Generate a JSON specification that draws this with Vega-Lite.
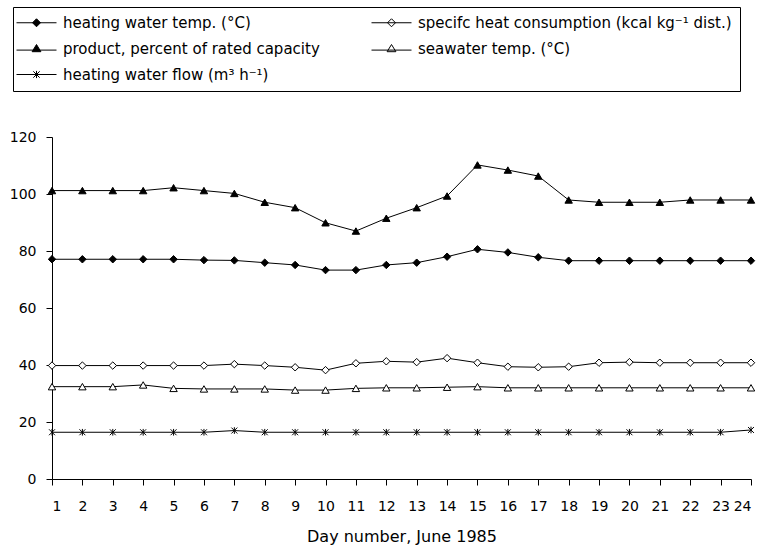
{
  "$schema": "https://vega.github.io/schema/vega-lite/v6.json",
  "width": 699,
  "height": 342,
  "autosize": {"type": "none"},
  "padding": {"left": 52, "top": 137, "right": 11, "bottom": 69},
  "background": "white",
  "config": {
    "view": {"stroke": null},
    "font": "DejaVu Sans",
    "axis": {
      "grid": false,
      "domainColor": "black",
      "tickColor": "black",
      "labelColor": "black",
      "titleColor": "black",
      "labelFont": "DejaVu Sans",
      "titleFont": "DejaVu Sans",
      "labelFontSize": 14,
      "titleFontSize": 16,
      "titleFontWeight": "normal",
      "tickSize": 6
    }
  },
  "data": {
    "values": [
      {"day":1,"series":"heating water temp. (°C)","value":77.1},
      {"day":2,"series":"heating water temp. (°C)","value":77.1},
      {"day":3,"series":"heating water temp. (°C)","value":77.1},
      {"day":4,"series":"heating water temp. (°C)","value":77.1},
      {"day":5,"series":"heating water temp. (°C)","value":77.1},
      {"day":6,"series":"heating water temp. (°C)","value":76.8},
      {"day":7,"series":"heating water temp. (°C)","value":76.7},
      {"day":8,"series":"heating water temp. (°C)","value":75.9},
      {"day":9,"series":"heating water temp. (°C)","value":75.1},
      {"day":10,"series":"heating water temp. (°C)","value":73.3},
      {"day":11,"series":"heating water temp. (°C)","value":73.3},
      {"day":12,"series":"heating water temp. (°C)","value":75.1},
      {"day":13,"series":"heating water temp. (°C)","value":75.9},
      {"day":14,"series":"heating water temp. (°C)","value":78.0},
      {"day":15,"series":"heating water temp. (°C)","value":80.6},
      {"day":16,"series":"heating water temp. (°C)","value":79.5},
      {"day":17,"series":"heating water temp. (°C)","value":77.8},
      {"day":18,"series":"heating water temp. (°C)","value":76.6},
      {"day":19,"series":"heating water temp. (°C)","value":76.6},
      {"day":20,"series":"heating water temp. (°C)","value":76.6},
      {"day":21,"series":"heating water temp. (°C)","value":76.6},
      {"day":22,"series":"heating water temp. (°C)","value":76.6},
      {"day":23,"series":"heating water temp. (°C)","value":76.6},
      {"day":24,"series":"heating water temp. (°C)","value":76.6},
      {"day":1,"series":"specifc heat consumption (kcal kg⁻¹ dist.)","value":39.8},
      {"day":2,"series":"specifc heat consumption (kcal kg⁻¹ dist.)","value":39.8},
      {"day":3,"series":"specifc heat consumption (kcal kg⁻¹ dist.)","value":39.8},
      {"day":4,"series":"specifc heat consumption (kcal kg⁻¹ dist.)","value":39.8},
      {"day":5,"series":"specifc heat consumption (kcal kg⁻¹ dist.)","value":39.8},
      {"day":6,"series":"specifc heat consumption (kcal kg⁻¹ dist.)","value":39.8},
      {"day":7,"series":"specifc heat consumption (kcal kg⁻¹ dist.)","value":40.3},
      {"day":8,"series":"specifc heat consumption (kcal kg⁻¹ dist.)","value":39.8},
      {"day":9,"series":"specifc heat consumption (kcal kg⁻¹ dist.)","value":39.2},
      {"day":10,"series":"specifc heat consumption (kcal kg⁻¹ dist.)","value":38.2},
      {"day":11,"series":"specifc heat consumption (kcal kg⁻¹ dist.)","value":40.6},
      {"day":12,"series":"specifc heat consumption (kcal kg⁻¹ dist.)","value":41.3},
      {"day":13,"series":"specifc heat consumption (kcal kg⁻¹ dist.)","value":41.0},
      {"day":14,"series":"specifc heat consumption (kcal kg⁻¹ dist.)","value":42.4},
      {"day":15,"series":"specifc heat consumption (kcal kg⁻¹ dist.)","value":40.8},
      {"day":16,"series":"specifc heat consumption (kcal kg⁻¹ dist.)","value":39.4},
      {"day":17,"series":"specifc heat consumption (kcal kg⁻¹ dist.)","value":39.2},
      {"day":18,"series":"specifc heat consumption (kcal kg⁻¹ dist.)","value":39.4},
      {"day":19,"series":"specifc heat consumption (kcal kg⁻¹ dist.)","value":40.8},
      {"day":20,"series":"specifc heat consumption (kcal kg⁻¹ dist.)","value":41.0},
      {"day":21,"series":"specifc heat consumption (kcal kg⁻¹ dist.)","value":40.8},
      {"day":22,"series":"specifc heat consumption (kcal kg⁻¹ dist.)","value":40.8},
      {"day":23,"series":"specifc heat consumption (kcal kg⁻¹ dist.)","value":40.8},
      {"day":24,"series":"specifc heat consumption (kcal kg⁻¹ dist.)","value":40.8},
      {"day":1,"series":"product, percent of rated capacity","value":101.2},
      {"day":2,"series":"product, percent of rated capacity","value":101.2},
      {"day":3,"series":"product, percent of rated capacity","value":101.2},
      {"day":4,"series":"product, percent of rated capacity","value":101.2},
      {"day":5,"series":"product, percent of rated capacity","value":102.2},
      {"day":6,"series":"product, percent of rated capacity","value":101.2},
      {"day":7,"series":"product, percent of rated capacity","value":100.2},
      {"day":8,"series":"product, percent of rated capacity","value":97.1},
      {"day":9,"series":"product, percent of rated capacity","value":95.2},
      {"day":10,"series":"product, percent of rated capacity","value":89.9},
      {"day":11,"series":"product, percent of rated capacity","value":87.0},
      {"day":12,"series":"product, percent of rated capacity","value":91.5},
      {"day":13,"series":"product, percent of rated capacity","value":95.2},
      {"day":14,"series":"product, percent of rated capacity","value":99.3},
      {"day":15,"series":"product, percent of rated capacity","value":110.2},
      {"day":16,"series":"product, percent of rated capacity","value":108.4},
      {"day":17,"series":"product, percent of rated capacity","value":106.3},
      {"day":18,"series":"product, percent of rated capacity","value":97.9},
      {"day":19,"series":"product, percent of rated capacity","value":97.1},
      {"day":20,"series":"product, percent of rated capacity","value":97.1},
      {"day":21,"series":"product, percent of rated capacity","value":97.1},
      {"day":22,"series":"product, percent of rated capacity","value":97.9},
      {"day":23,"series":"product, percent of rated capacity","value":97.9},
      {"day":24,"series":"product, percent of rated capacity","value":97.9},
      {"day":1,"series":"seawater temp. (°C)","value":32.4},
      {"day":2,"series":"seawater temp. (°C)","value":32.4},
      {"day":3,"series":"seawater temp. (°C)","value":32.4},
      {"day":4,"series":"seawater temp. (°C)","value":33.0},
      {"day":5,"series":"seawater temp. (°C)","value":31.8},
      {"day":6,"series":"seawater temp. (°C)","value":31.6},
      {"day":7,"series":"seawater temp. (°C)","value":31.6},
      {"day":8,"series":"seawater temp. (°C)","value":31.6},
      {"day":9,"series":"seawater temp. (°C)","value":31.2},
      {"day":10,"series":"seawater temp. (°C)","value":31.2},
      {"day":11,"series":"seawater temp. (°C)","value":31.8},
      {"day":12,"series":"seawater temp. (°C)","value":32.0},
      {"day":13,"series":"seawater temp. (°C)","value":32.0},
      {"day":14,"series":"seawater temp. (°C)","value":32.2},
      {"day":15,"series":"seawater temp. (°C)","value":32.4},
      {"day":16,"series":"seawater temp. (°C)","value":32.0},
      {"day":17,"series":"seawater temp. (°C)","value":32.0},
      {"day":18,"series":"seawater temp. (°C)","value":32.0},
      {"day":19,"series":"seawater temp. (°C)","value":32.0},
      {"day":20,"series":"seawater temp. (°C)","value":32.0},
      {"day":21,"series":"seawater temp. (°C)","value":32.0},
      {"day":22,"series":"seawater temp. (°C)","value":32.0},
      {"day":23,"series":"seawater temp. (°C)","value":32.0},
      {"day":24,"series":"seawater temp. (°C)","value":32.0},
      {"day":1,"series":"heating water flow (m³ h⁻¹)","value":16.4},
      {"day":2,"series":"heating water flow (m³ h⁻¹)","value":16.4},
      {"day":3,"series":"heating water flow (m³ h⁻¹)","value":16.4},
      {"day":4,"series":"heating water flow (m³ h⁻¹)","value":16.4},
      {"day":5,"series":"heating water flow (m³ h⁻¹)","value":16.4},
      {"day":6,"series":"heating water flow (m³ h⁻¹)","value":16.4},
      {"day":7,"series":"heating water flow (m³ h⁻¹)","value":17.0},
      {"day":8,"series":"heating water flow (m³ h⁻¹)","value":16.4},
      {"day":9,"series":"heating water flow (m³ h⁻¹)","value":16.4},
      {"day":10,"series":"heating water flow (m³ h⁻¹)","value":16.4},
      {"day":11,"series":"heating water flow (m³ h⁻¹)","value":16.4},
      {"day":12,"series":"heating water flow (m³ h⁻¹)","value":16.4},
      {"day":13,"series":"heating water flow (m³ h⁻¹)","value":16.4},
      {"day":14,"series":"heating water flow (m³ h⁻¹)","value":16.4},
      {"day":15,"series":"heating water flow (m³ h⁻¹)","value":16.4},
      {"day":16,"series":"heating water flow (m³ h⁻¹)","value":16.4},
      {"day":17,"series":"heating water flow (m³ h⁻¹)","value":16.4},
      {"day":18,"series":"heating water flow (m³ h⁻¹)","value":16.4},
      {"day":19,"series":"heating water flow (m³ h⁻¹)","value":16.4},
      {"day":20,"series":"heating water flow (m³ h⁻¹)","value":16.4},
      {"day":21,"series":"heating water flow (m³ h⁻¹)","value":16.4},
      {"day":22,"series":"heating water flow (m³ h⁻¹)","value":16.4},
      {"day":23,"series":"heating water flow (m³ h⁻¹)","value":16.4},
      {"day":24,"series":"heating water flow (m³ h⁻¹)","value":17.2}
    ]
  },
  "encoding": {
    "x": {
      "field": "day", "type": "quantitative",
      "scale": {"domain": [1, 24], "nice": false, "zero": false},
      "axis": {
        "values": [1,2,3,4,5,6,7,8,9,10,11,12,13,14,15,16,17,18,19,20,21,22,23,24],
        "title": "Day number, June 1985",
        "labelPadding": 14,
        "titlePadding": 15,
        "format": "d"
      }
    },
    "y": {
      "field": "value", "type": "quantitative",
      "scale": {"domain": [0, 120], "nice": false},
      "axis": {"values": [0,20,40,60,80,100,120], "title": null, "labelPadding": 10}
    }
  },
  "layer": [
    {
      "mark": {"type": "line", "color": "black", "strokeWidth": 1},
      "encoding": {"detail": {"field": "series"}}
    },
    {
      "mark": {"type": "point", "stroke": "black", "strokeWidth": 1, "size": 55, "opacity": 1},
      "encoding": {
        "shape": {
          "field": "series", "type": "nominal",
          "scale": {
            "domain": ["heating water temp. (°C)", "specifc heat consumption (kcal kg⁻¹ dist.)", "product, percent of rated capacity", "seawater temp. (°C)", "heating water flow (m³ h⁻¹)"],
            "range": ["diamond", "diamond", "triangle-up", "triangle-up", "M-0.8,-0.8L0.8,0.8M-0.8,0.8L0.8,-0.8M0,-0.9L0,0.9"]
          },
          "legend": null
        },
        "fill": {
          "field": "series", "type": "nominal",
          "scale": {
            "domain": ["heating water temp. (°C)", "specifc heat consumption (kcal kg⁻¹ dist.)", "product, percent of rated capacity", "seawater temp. (°C)", "heating water flow (m³ h⁻¹)"],
            "range": ["black", "white", "black", "white", "black"]
          },
          "legend": null
        }
      }
    },
    {
      "transform": [{"filter": "datum.day > 100"}],
      "mark": {"type": "point", "strokeWidth": 1, "size": 64, "opacity": 1},
      "encoding": {
        "shape": {
          "field": "series", "type": "nominal",
          "scale": {
            "domain": ["heating water temp. (°C)", "specifc heat consumption (kcal kg⁻¹ dist.)", "product, percent of rated capacity", "seawater temp. (°C)", "heating water flow (m³ h⁻¹)"],
            "range": [
              "M-5,0L5,0M0,-1L1,0L0,1L-1,0Z",
              "M-5,0L5,0M0,-1L1,0L0,1L-1,0Z",
              "M-5,0.4L5,0.4M0,-1L1.1,0.8L-1.1,0.8Z",
              "M-5,0.4L5,0.4M0,-1L1.1,0.8L-1.1,0.8Z",
              "M-5,0L5,0M-0.8,-0.8L0.8,0.8M-0.8,0.8L0.8,-0.8M0,-0.9L0,0.9"
            ]
          },
          "legend": {
            "title": null,
            "orient": "none",
            "legendX": -39,
            "legendY": -130,
            "columns": 2,
            "direction": "horizontal",
            "strokeColor": "black",
            "padding": 8,
            "labelFont": "DejaVu Sans",
            "labelFontSize": 15,
            "labelColor": "black",
            "labelLimit": 500,
            "symbolSize": 64,
            "symbolOffset": 8,
            "labelOffset": 19,
            "columnPadding": 49,
            "rowPadding": 10,
            "symbolStrokeWidth": 1
          }
        },
        "fill": {
          "field": "series", "type": "nominal",
          "scale": {
            "domain": ["heating water temp. (°C)", "specifc heat consumption (kcal kg⁻¹ dist.)", "product, percent of rated capacity", "seawater temp. (°C)", "heating water flow (m³ h⁻¹)"],
            "range": ["black", "white", "black", "white", "black"]
          },
          "legend": {
            "title": null,
            "orient": "none",
            "legendX": -39,
            "legendY": -130,
            "columns": 2,
            "direction": "horizontal",
            "strokeColor": "black",
            "padding": 8,
            "labelFont": "DejaVu Sans",
            "labelFontSize": 15,
            "labelColor": "black",
            "labelLimit": 500,
            "symbolSize": 64,
            "symbolOffset": 8,
            "labelOffset": 19,
            "columnPadding": 49,
            "rowPadding": 10,
            "symbolStrokeWidth": 1
          }
        },
        "stroke": {
          "field": "series", "type": "nominal",
          "scale": {
            "domain": ["heating water temp. (°C)", "specifc heat consumption (kcal kg⁻¹ dist.)", "product, percent of rated capacity", "seawater temp. (°C)", "heating water flow (m³ h⁻¹)"],
            "range": ["black", "black", "black", "black", "black"]
          },
          "legend": {
            "title": null,
            "orient": "none",
            "legendX": -39,
            "legendY": -130,
            "columns": 2,
            "direction": "horizontal",
            "strokeColor": "black",
            "padding": 8,
            "labelFont": "DejaVu Sans",
            "labelFontSize": 15,
            "labelColor": "black",
            "labelLimit": 500,
            "symbolSize": 64,
            "symbolOffset": 8,
            "labelOffset": 19,
            "columnPadding": 49,
            "rowPadding": 10,
            "symbolStrokeWidth": 1
          }
        }
      }
    }
  ],
  "resolve": {"scale": {"shape": "independent", "fill": "independent", "stroke": "independent"}}
}
